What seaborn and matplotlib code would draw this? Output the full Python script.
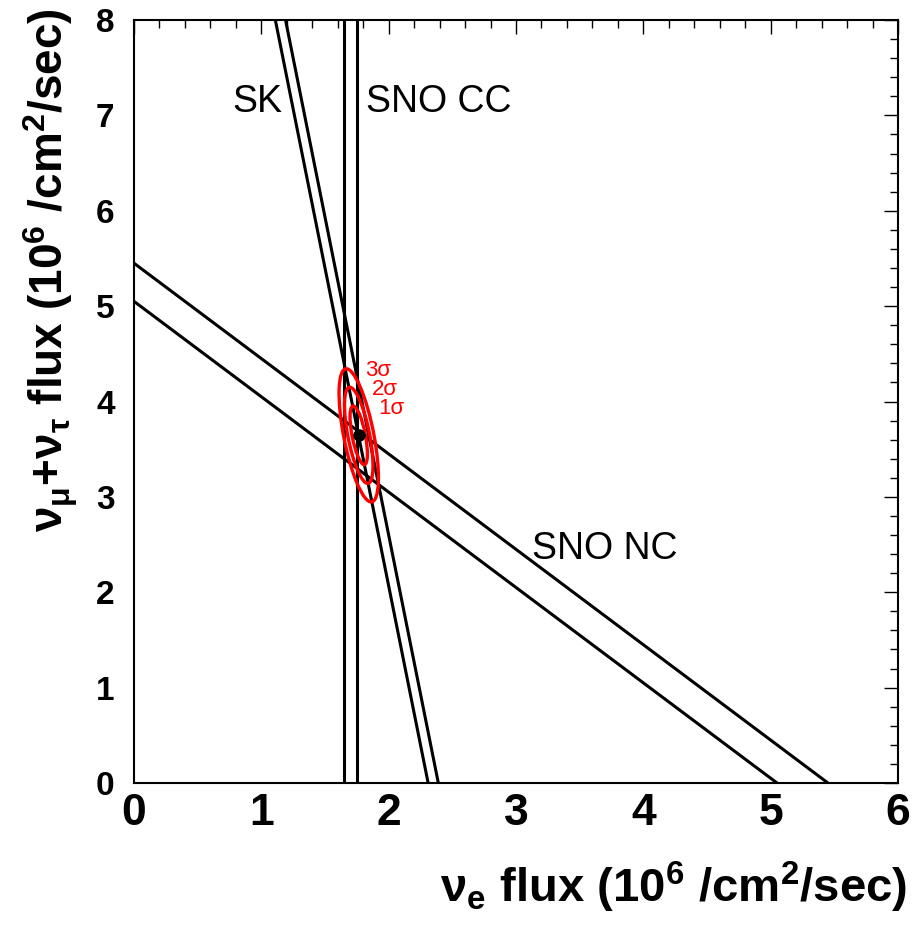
import numpy as np
import pandas as pd
import matplotlib
matplotlib.use("Agg")
import matplotlib.pyplot as plt
from matplotlib.patches import Ellipse
from matplotlib.ticker import MultipleLocator
from matplotlib import font_manager
import seaborn as sns

# ---------------- data ----------------
sno_cc_flux = [1.65, 1.75]      # SNO CC band edges: phi_e = c
sno_nc_flux = [5.05, 5.45]      # SNO NC band edges: phi_e + phi_mt = c
sk_flux = [2.31, 2.39]          # SK band edges: phi_e + r*phi_mt = c
sk_ratio = 0.15
best_fit = [1.765, 3.645]
sigma_e = 0.045
sigma_mt = 0.203
rho = -0.63
delta_chi2 = [2.30, 6.18, 11.83]
sigma_labels = ["1σ", "2σ", "3σ"]
sigma_label_x = [1.92, 1.87, 1.814]
sigma_label_y = [3.87, 4.07, 4.27]
band_labels = ["SK", "SNO CC", "SNO NC"]
band_label_x = [0.77, 1.82, 3.126]
band_label_y = [7.035, 7.035, 2.35]
x_ticks = [0, 1, 2, 3, 4, 5, 6]
y_ticks = [0, 1, 2, 3, 4, 5, 6, 7, 8]
x_lim = [0, 6]
y_lim = [0, 8]

# ---------------- style ----------------
sns.set_style("white")


def have(fam):
    try:
        font_manager.findfont(font_manager.FontProperties(family=fam), fallback_to_default=False)
        return True
    except Exception:
        return False


main_font = "Liberation Sans" if have("Liberation Sans") else "DejaVu Sans"
narrow_font = "Liberation Sans Narrow" if have("Liberation Sans Narrow") else main_font

plt.rcParams["font.family"] = [main_font, "DejaVu Sans"]
plt.rcParams["mathtext.fontset"] = "custom"
plt.rcParams["mathtext.default"] = "regular"
plt.rcParams["text.color"] = "black"
plt.rcParams["axes.labelcolor"] = "black"

fig = plt.figure(figsize=(9.13, 9.25), dpi=100)
ax = fig.add_axes([134 / 913, 1 - 783 / 925, (898 - 134) / 913, (783 - 20) / 925])

# ---------------- band lines ----------------
rows = []
for i, c in enumerate(sno_cc_flux):
    rows += [("cc%d" % i, c, y_lim[0]), ("cc%d" % i, c, y_lim[1])]
for i, c in enumerate(sno_nc_flux):
    rows += [("nc%d" % i, 0.0, c), ("nc%d" % i, c, 0.0)]
for i, c in enumerate(sk_flux):
    rows += [("sk%d" % i, c - sk_ratio * y_lim[1], y_lim[1]), ("sk%d" % i, c, 0.0)]
lines = pd.DataFrame(rows, columns=["line", "x", "y"])
sns.lineplot(data=lines, x="x", y="y", units="line", estimator=None, sort=False,
             color="black", lw=2.2, ax=ax, legend=False)

# ---------------- contours ----------------
cov = np.array([[sigma_e ** 2, rho * sigma_e * sigma_mt],
                [rho * sigma_e * sigma_mt, sigma_mt ** 2]])
vals, vecs = np.linalg.eigh(cov)
angle = np.degrees(np.arctan2(vecs[1, 1], vecs[0, 1]))
for k in delta_chi2:
    e = Ellipse(xy=best_fit, width=2 * np.sqrt(k * vals[1]), height=2 * np.sqrt(k * vals[0]),
                angle=angle, fill=False, edgecolor="#ff0000", lw=2.4, zorder=5)
    ax.add_patch(e)

sns.scatterplot(x=[best_fit[0]], y=[best_fit[1]], color="black", s=80, ax=ax,
                zorder=6, edgecolor="black", linewidth=0)

for t, x, y in zip(sigma_labels, sigma_label_x, sigma_label_y):
    ax.text(x, y, t, color="#ff0000", fontsize=16, ha="left", va="baseline")
for t, x, y in zip(band_labels, band_label_x, band_label_y):
    ax.text(x, y, t, color="black", fontsize=27, ha="left", va="baseline")

# ---------------- axes ----------------
ax.set_xlim(x_lim)
ax.set_ylim(y_lim)
ax.set_xticks(x_ticks)
ax.set_yticks(y_ticks)
ax.xaxis.set_minor_locator(MultipleLocator(0.2))
ax.yaxis.set_minor_locator(MultipleLocator(0.2))
ax.tick_params(which="both", direction="in", top=True, right=True, width=1,
               colors="black", labelcolor="black")
ax.tick_params(which="major", length=10)
ax.tick_params(which="minor", length=5.5)
ax.tick_params(axis="x", which="major", pad=7)
ax.tick_params(axis="y", which="major", pad=14)
for lab in ax.get_xticklabels():
    lab.set_fontfamily(narrow_font)
    lab.set_fontweight("bold")
    lab.set_fontsize(32)
for lab in ax.get_yticklabels():
    lab.set_fontweight("bold")
    lab.set_fontsize(24)
for s in ax.spines.values():
    s.set_linewidth(1.5)
    s.set_color("black")

ax.set_xlabel(r"$\nu_{e}$ flux (10$^{6}$ /cm$^{2}$/sec)", fontsize=34, fontweight="bold",
              family=narrow_font, ha="right", va="baseline", color="black")
ax.xaxis.set_label_coords((907 - 134) / 764, (783 - 902) / 763)
ax.set_ylabel(r"$\nu_{\mu}$+$\nu_{\tau}$ flux (10$^{6}$ /cm$^{2}$/sec)", fontsize=33,
              fontweight="bold", ha="right", va="baseline", color="black")
ax.yaxis.set_label_coords((64 - 134) / 764, (783 - 8) / 763)

fig.savefig("out.png", dpi=100)
